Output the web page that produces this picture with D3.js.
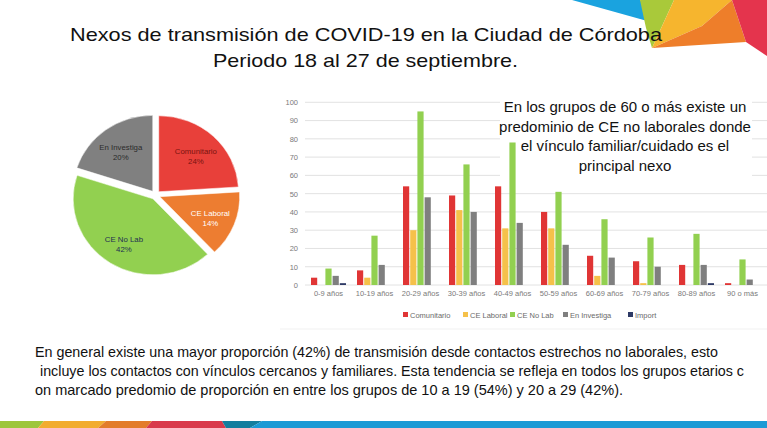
<!DOCTYPE html>
<html>
<head>
<meta charset="utf-8">
<script src="https://cdn.jsdelivr.net/npm/d3@7"></script>
<style>
  html,body{margin:0;padding:0;background:#fff;}
  svg{display:block;font-family:"Liberation Sans",Arial,sans-serif;}
</style>
</head>
<body>
<svg id="c" width="767" height="428"></svg>
<script>
// ---------------- DATA ----------------
const titleLines = ["Nexos de transmisión de COVID-19 en la Ciudad de Córdoba", "Periodo 18 al 27 de septiembre."];
const pieCategories = ["Comunitario", "CE Laboral", "CE No Lab", "En Investiga"];
const pieValues = [24, 14, 42, 20];
const ageGroups = ["0-9 años","10-19 años","20-29 años","30-39 años","40-49 años","50-59 años","60-69 años","70-79 años","80-89 años","90 o más"];
const seriesNames = ["Comunitario","CE Laboral","CE No Lab","En Investiga","Import"];
const comunitario = [4, 8, 54, 49, 54, 40, 16, 13, 11, 1];
const ceLaboral   = [0, 4, 30, 41, 31, 31, 5, 1, 0, 0];
const ceNoLab     = [9, 27, 95, 66, 78, 51, 36, 26, 28, 14];
const enInvestiga = [5, 11, 48, 40, 34, 22, 15, 10, 11, 3];
const importados  = [1, 0, 0, 0, 0, 0, 0, 0, 1, 0];
const yTicks = [0,10,20,30,40,50,60,70,80,90,100];
const noteLines = ["En los grupos de 60 o más existe un", "predominio de CE no laborales donde", "el vínculo familiar/cuidado es el", "principal nexo"];
const bottomLines = [
  "En general existe una mayor proporción (42%) de transmisión desde contactos estrechos no laborales, esto",
  " incluye los contactos con vínculos cercanos y familiares. Esta tendencia se refleja en todos los grupos etarios c",
  "on marcado predomio de proporción en entre los grupos de 10 a 19 (54%) y 20 a 29 (42%)."
];

// ---------------- STYLE ----------------
const pieColors = ["#E8403A", "#ED7D31", "#92D050", "#808080"];
const pieTextColors = ["#7A1410", "#FFFFFF", "#1F3050", "#2B2B2B"];
const barColors = ["#E03535", "#F5C14A", "#92D050", "#7F7F7F", "#2E3A66"];

const svg = d3.select("#c");

// decorative corner shapes (top right)
const deco = svg.append("g");
[
  {c:"#1AA3DF", p:[[572,0],[640,0],[658,24]]},
  {c:"#A9C93A", p:[[640,0],[674,0],[652,48],[646,28]]},
  {c:"#F6B52E", p:[[674,0],[732,0],[702,26],[652,48]]},
  {c:"#EE7E2A", p:[[652,48],[702,26],[732,0],[746,42]]},
  {c:"#E4344D", p:[[732,0],[767,0],[767,56],[746,42]]}
].forEach(s=>deco.append("polygon").attr("points", s.p.map(d=>d.join(",")).join(" ")).attr("fill", s.c));

// bottom stripe
const strip = svg.append("g");
[
  {c:"#9DC63C", p:[[0,421],[44,421],[38,428],[0,428]]},
  {c:"#F2AC30", p:[[44,421],[106,421],[98,428],[38,428]]},
  {c:"#E37C2B", p:[[106,421],[152,421],[146,428],[98,428]]},
  {c:"#D93A4C", p:[[152,421],[222,421],[226,428],[146,428]]},
  {c:"#137E9E", p:[[222,421],[262,421],[250,428],[226,428]]},
  {c:"#1B9AD5", p:[[262,421],[767,421],[767,428],[250,428]]}
].forEach(s=>strip.append("polygon").attr("points", s.p.map(d=>d.join(",")).join(" ")).attr("fill", s.c));

// title
const tW = [592, 305];
const tX = [70, 213];
const tY = [41, 67];
titleLines.forEach((t,i)=>{
  svg.append("text").attr("x", tX[i]).attr("y", tY[i]).attr("font-size", 19)
    .attr("fill", "#111").attr("textLength", tW[i]).attr("lengthAdjust","spacingAndGlyphs").text(t);
});

// ---------------- PIE ----------------
const pcx = 155.5, pcy = 195, pr = 76, explode = 4.5;
const pie = d3.pie().sort(null).value(d=>d)(pieValues);
const arc = d3.arc().innerRadius(0).outerRadius(pr);
const pg = svg.append("g").attr("transform", `translate(${pcx},${pcy}) scale(1.05,1)`);
pie.forEach((d,i)=>{
  const m = (d.startAngle + d.endAngle)/2;
  const dx = Math.sin(m)*explode, dy = -Math.cos(m)*explode;
  const g = pg.append("g").attr("transform", `translate(${dx},${dy})`);
  g.append("path").attr("d", arc(d)).attr("fill", pieColors[i]).attr("stroke","#fff").attr("stroke-width",0.5);
  const lr = pr*0.68;
  const lx = Math.sin(m)*lr, ly = -Math.cos(m)*lr;
  const t = g.append("text").attr("text-anchor","middle").attr("font-size",7.8)
    .attr("fill", pieTextColors[i]).attr("transform", `translate(${lx},${ly}) scale(${1/1.05},1)`);
  t.append("tspan").attr("x",0).attr("y",0).text(pieCategories[i]);
  t.append("tspan").attr("x",0).attr("y",10).text(pieValues[i] + "%");
});

// ---------------- BARS ----------------
const series = [comunitario, ceLaboral, ceNoLab, enInvestiga, importados];
const x0 = d3.scaleBand().domain(ageGroups).range([305.5, 765.5]).paddingInner(0).paddingOuter(0);
const x1 = d3.scaleBand().domain(seriesNames).range([5.5, 40.5]).paddingInner(0.14);
const y = d3.scaleLinear().domain([0,100]).range([285, 102.3]);

const bg = svg.append("g");
// gridlines
bg.append("g").selectAll("line").data(yTicks).join("line")
  .attr("x1", 305).attr("x2", 767).attr("y1", d=>y(d)).attr("y2", d=>y(d))
  .attr("stroke", "#DADADA").attr("stroke-width", 0.8);

// y axis labels via d3 axis
const yAxis = d3.axisLeft(y).tickValues(yTicks).tickSize(0).tickPadding(0);
const ya = bg.append("g").attr("transform","translate(298,0)").call(yAxis);
ya.select(".domain").remove();
ya.selectAll("text").attr("font-size", 7.5).attr("fill", "#7A7A7A").attr("font-family","'Liberation Sans',Arial,sans-serif");

// annotation background (covers gridlines)
bg.append("rect").attr("x", 500).attr("y", 96).attr("width", 252).attr("height", 80).attr("fill","#fff");

// bars
const groups = bg.append("g").selectAll("g").data(ageGroups).join("g")
  .attr("transform", d=>`translate(${x0(d)},0)`);
groups.selectAll("rect").data((g,gi)=>seriesNames.map((s,si)=>({s, si, v: series[si][gi]})))
  .join("rect")
  .attr("x", d=>x1(d.s)).attr("width", x1.bandwidth())
  .attr("y", d=>y(d.v)).attr("height", d=>y(0)-y(d.v))
  .attr("fill", d=>barColors[d.si]);

// x axis labels
const xAxis = d3.axisBottom(x0).tickSize(0).tickPadding(0);
const xa = bg.append("g").attr("transform","translate(0,294)").call(xAxis);
xa.select(".domain").remove();
xa.selectAll("text").attr("font-size", 7.5).attr("fill","#7A7A7A").attr("dy","0.3em")
  .attr("font-family","'Liberation Sans',Arial,sans-serif");

// legend
const legX = [403, 463, 510, 563, 628];
const leg = bg.append("g");
seriesNames.forEach((s,i)=>{
  leg.append("rect").attr("x", legX[i]).attr("y", 312).attr("width",5).attr("height",5).attr("fill", barColors[i]);
  leg.append("text").attr("x", legX[i]+7).attr("y", 317.5).attr("font-size",7.5).attr("fill","#6A6A6A").text(s);
});
bg.append("line").attr("x1",280).attr("x2",767).attr("y1",329).attr("y2",329).attr("stroke","#EEEEEE").attr("stroke-width",0.8);

// annotation text
const nY = [112, 132, 151, 171];
noteLines.forEach((t,i)=>{
  svg.append("text").attr("x", 625).attr("y", nY[i]).attr("text-anchor","middle")
    .attr("font-size", 15).attr("fill","#111").text(t);
});

// bottom text
const bY = [357, 376, 395];
const bX = [35, 36, 35];
const bW = [683, 708, 588];
bottomLines.forEach((t,i)=>{
  svg.append("text").attr("x", bX[i]).attr("y", bY[i]).attr("font-size", 14.5).attr("fill","#111")
    .attr("textLength", bW[i]).attr("lengthAdjust","spacingAndGlyphs")
    .attr("xml:space","preserve").style("white-space","pre").text(t);
});
</script>
</body>
</html>
